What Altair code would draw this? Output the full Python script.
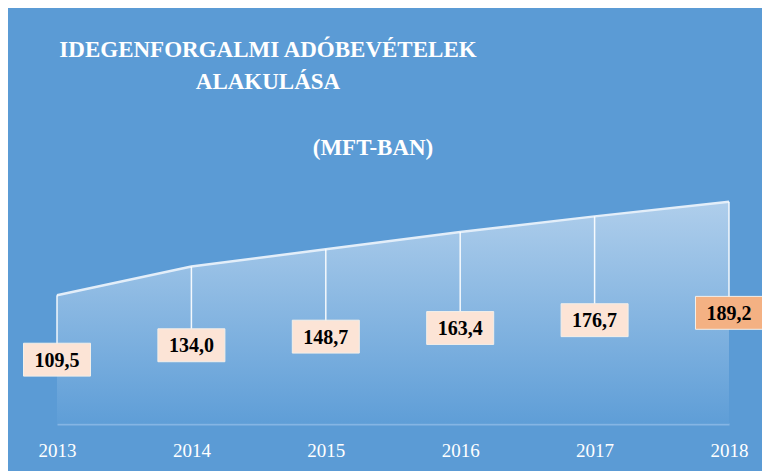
import altair as alt
import pandas as pd

years = ["2013", "2014", "2015", "2016", "2017", "2018"]
values = [109.5, 134.0, 148.7, 163.4, 176.7, 189.2]
labels = ["109,5", "134,0", "148,7", "163,4", "176,7", "189,2"]
highlight = [False, False, False, False, False, True]
title_lines = ["IDEGENFORGALMI ADÓBEVÉTELEK", "ALAKULÁSA"]
subtitle = "(MFT-BAN)"

df = pd.DataFrame({"year": years, "value": values, "label": labels, "hl": highlight})

SERIF = "Liberation Serif"

x = alt.X(
    "year:O",
    scale=alt.Scale(type="point", padding=0),
    axis=alt.Axis(
        title=None, labelAngle=0, labelFont=SERIF, labelFontSize=19,
        labelColor="white", ticks=False, domainColor="#85b5e4",
        domainWidth=2, labelPadding=17, grid=False,
    ),
)
yscale = alt.Scale(domain=[0, 200], nice=False, zero=True)

base = alt.Chart(df)

area = base.mark_area(
    color=alt.Gradient(
        gradient="linear",
        stops=[
            alt.GradientStop(color="#d3e4f5", offset=0),
            alt.GradientStop(color="#609fd8", offset=1),
        ],
        x1=0, x2=0, y1=0, y2=1,
    ),
    line={"color": "#e3eef9", "strokeWidth": 2.5},
).encode(x=x, y=alt.Y("value:Q", scale=yscale, axis=None))

rules = base.transform_calculate(half="datum.value / 2").mark_rule(
    color="white", strokeWidth=1.5, opacity=0.9
).encode(x=x, y=alt.Y("value:Q", scale=yscale, axis=None), y2="half:Q")

boxes = base.transform_calculate(
    lo="datum.value / 2 - 14", hi="datum.value / 2 + 14"
).mark_bar(size=67, stroke="#f3efe9", strokeWidth=1).encode(
    x=x,
    y=alt.Y("lo:Q", scale=yscale, axis=None),
    y2="hi:Q",
    color=alt.condition(alt.datum.hl, alt.value("#f4b183"), alt.value("#fce4d6")),
)

texts = base.transform_calculate(half="datum.value / 2").mark_text(
    font=SERIF, fontWeight="bold", fontSize=20, color="black", baseline="middle", dy=1
).encode(x=x, y=alt.Y("half:Q", scale=yscale, axis=None), text="label:N")

tdf = pd.DataFrame({"t": title_lines, "i": [0, 1]})
title = alt.Chart(tdf).mark_text(
    font=SERIF, fontWeight="bold", fontSize=23, color="white",
    align="center", baseline="alphabetic",
).encode(
    x=alt.value(211),
    y=alt.Y("i:Q", scale=alt.Scale(domain=[0, 1], range=[-132, -100]), axis=None),
    text="t:N",
)

sub = alt.Chart(pd.DataFrame({"t": [subtitle]})).mark_text(
    font=SERIF, fontWeight="bold", fontSize=23, color="white",
    align="center", baseline="alphabetic",
).encode(x=alt.value(316), y=alt.value(-34), text="t:N")

chart = alt.layer(area, rules, boxes, texts, title, sub).resolve_scale(
    y="independent"
).properties(
    width=672, height=235,
    autosize=alt.AutoSizeParams(type="none"),
    padding={"left": 49, "top": 181, "right": 33, "bottom": 47},
    background="#5b9bd5",
).configure_view(stroke=None)

chart.save("out.html", embed_options={"renderer": "svg", "actions": False})
